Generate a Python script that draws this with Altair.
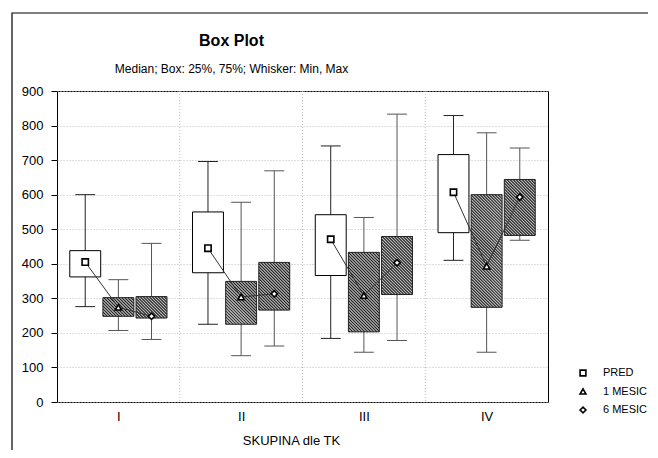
import json
import altair as alt
import pandas as pd

# ---------------- data ----------------
groups = ["I", "II", "III", "IV"]
series = ["PRED", "1 MESIC", "6 MESIC"]

pred_min = [276, 225, 184, 410]
pred_q1 = [362, 374, 366, 490]
pred_med = [405, 445, 471, 607]
pred_q3 = [438, 550, 542, 716]
pred_max = [600, 696, 741, 829]

m1_min = [207, 134, 144, 144]
m1_q1 = [248, 225, 203, 274]
m1_med = [274, 304, 308, 393]
m1_q3 = [302, 349, 433, 600]
m1_max = [354, 578, 534, 779]

m6_min = [181, 162, 178, 468]
m6_q1 = [243, 266, 311, 482]
m6_med = [248, 313, 403, 593]
m6_q3 = [305, 404, 479, 644]
m6_max = [459, 669, 833, 735]

y_ticks = list(range(0, 1000, 100))

# ---------------- layout ----------------
W, H = 491, 311
PAD = {"left": 49, "top": 83, "right": 100, "bottom": 48}
Y_MAX = 900
X_DOM = [0.5, len(groups) + 0.5]
PX_X = W / (X_DOM[1] - X_DOM[0])
PX_Y = H / Y_MAX
OFFS = [-0.27, 0.0, 0.27]
BOX_HALF = 0.126
CAP_HALF = 0.081
HATCH_STEP = 3.0   # px, horizontal spacing of hatch lines
LEG_SYM_X, LEG_TXT_X, LEG_Y = 526, 546, [282, 319]
FONT = "Liberation Sans, Arial, sans-serif"

stats = {
    "PRED": (pred_min, pred_q1, pred_med, pred_q3, pred_max),
    "1 MESIC": (m1_min, m1_q1, m1_med, m1_q3, m1_max),
    "6 MESIC": (m6_min, m6_q1, m6_med, m6_q3, m6_max),
}
whisker_col = {"PRED": "#222222", "1 MESIC": "#555555", "6 MESIC": "#555555"}

rows = []
for gi, g in enumerate(groups):
    for si, s in enumerate(series):
        mn, q1, md, q3, mx = (a[gi] for a in stats[s])
        xc = gi + 1 + OFFS[si]
        rows.append(dict(group=g, series=s, order=si, xc=xc, wcol=whisker_col[s],
                         bx1=xc - BOX_HALF, bx2=xc + BOX_HALF,
                         cx1=xc - CAP_HALF, cx2=xc + CAP_HALF,
                         mn=mn, q1=q1, md=md, q3=q3, mx=mx))
df = pd.DataFrame(rows)

caps = pd.concat([
    df[["wcol", "cx1", "cx2", "mn"]].rename(columns={"mn": "v"}),
    df[["wcol", "cx1", "cx2", "mx"]].rename(columns={"mx": "v"}),
])

# hatch lines ("\" direction) clipped to each hatched box, derived from box values
hl = []
for _, r in df[df.series != "PRED"].iterrows():
    w = (r.bx2 - r.bx1) * PX_X
    h = (r.q3 - r.q1) * PX_Y
    c = HATCH_STEP / 2
    while c < w + h:
        xa = max(0.0, c - h)
        xb = min(w, c)
        hl.append(dict(hx1=r.bx1 + xa / PX_X, hy1=r.q1 + (c - xa) / PX_Y,
                       hx2=r.bx1 + xb / PX_X, hy2=r.q1 + (c - xb) / PX_Y))
        c += HATCH_STEP
hatch_df = pd.DataFrame(hl)

xscale = alt.Scale(domain=X_DOM, nice=False, zero=False)
yscale = alt.Scale(domain=[0, Y_MAX], nice=False, zero=True)
shape_scale = alt.Scale(domain=series, range=["square", "triangle-up", "diamond"])

label_expr = json.dumps(groups) + "[datum.value - 1]"
x_axis = alt.Axis(values=list(range(1, len(groups) + 1)), labelExpr=label_expr,
                  title="SKUPINA dle TK", grid=False, ticks=False, domain=False,
                  labelFontSize=13, labelPadding=8, titleFontSize=13,
                  titleFontWeight="normal", titlePadding=11, titleX=234,
                  labelFont=FONT, titleFont=FONT, labelColor="black",
                  titleColor="black")
y_axis = alt.Axis(values=y_ticks, title=None, grid=True, gridDash=[1, 2],
                  gridColor="#bdbdbd", tickSize=6, tickColor="black",
                  domain=False, labelPadding=8, labelFontSize=13,
                  labelFont=FONT, labelColor="black")


def X(field):
    return alt.X(field, type="quantitative", scale=xscale, axis=x_axis)


def Y(field):
    return alt.Y(field, type="quantitative", scale=yscale, axis=y_axis)


# outer frame (decoration: left and top edges of the graph window)
frame = alt.Chart(pd.DataFrame({"a": [0]})).mark_rect(
    fillOpacity=0, stroke="black", strokeWidth=1.2
).encode(x=alt.value(-45), x2=alt.value(700), y=alt.value(-78), y2=alt.value(600))

whisk = alt.Chart(df).mark_rule(strokeWidth=1).encode(
    x=X("xc"), y=Y("mn"), y2="mx:Q", color=alt.Color("wcol:N", scale=None),
)

bounds = pd.DataFrame({"xb": [i + 1.5 for i in range(len(groups) - 1)]})
vgrid = alt.Chart(bounds).mark_rule(color="#bdbdbd", strokeDash=[1, 2]).encode(x=X("xb"))

cap = alt.Chart(caps).mark_rule(strokeWidth=1).encode(
    x=X("cx1"), x2="cx2:Q", y=Y("v"), color=alt.Color("wcol:N", scale=None),
)

pred_boxes = alt.Chart(df[df.series == "PRED"]).mark_rect(
    fill="white", stroke="black", strokeWidth=1
).encode(x=X("bx1"), x2="bx2:Q", y=Y("q1"), y2="q3:Q")

hbox_df = df[df.series != "PRED"]
hatch_bg = alt.Chart(hbox_df).mark_rect(fill="#c2c2c2").encode(
    x=X("bx1"), x2="bx2:Q", y=Y("q1"), y2="q3:Q")
hatch_lines = alt.Chart(hatch_df).mark_rule(color="#1a1a1a", strokeWidth=1.05).encode(
    x=X("hx1"), x2="hx2:Q", y=Y("hy1"), y2="hy2:Q")
hatch_outline = alt.Chart(hbox_df).mark_rect(
    fillOpacity=0, stroke="#222222", strokeWidth=1).encode(
    x=X("bx1"), x2="bx2:Q", y=Y("q1"), y2="q3:Q")

med_line = alt.Chart(df).mark_line(color="#333333", strokeWidth=1).encode(
    x=X("xc"), y=Y("md"), detail="group:N", order="order:Q",
)

markers = alt.Chart(df).mark_point(
    filled=True, fill="white", stroke="black", strokeWidth=1.6, size=40, opacity=1
).encode(
    x=X("xc"), y=Y("md"),
    shape=alt.Shape("series:N", scale=shape_scale, legend=None),
)

main = alt.layer(whisk, frame, vgrid, cap, pred_boxes, hatch_bg, hatch_lines, hatch_outline,
                 med_line, markers)

# legend (series list on its own point scale)
leg_df = pd.DataFrame({"series": series})
leg_y = alt.Y("series:N", scale=alt.Scale(domain=series, range=LEG_Y, padding=0), axis=None)
leg_sym = alt.Chart(leg_df).mark_point(
    filled=True, fill="white", stroke="black", strokeWidth=1.6, size=34, opacity=1
).encode(x=alt.value(LEG_SYM_X), y=leg_y,
         shape=alt.Shape("series:N", scale=shape_scale, legend=None))
leg_txt = alt.Chart(leg_df).mark_text(
    align="left", baseline="middle", font=FONT, fontSize=11, color="black"
).encode(x=alt.value(LEG_TXT_X), y=leg_y, text="series:N")
legend = alt.layer(leg_sym, leg_txt)

chart = alt.layer(main, legend).resolve_scale(y="independent").properties(
    width=W, height=H,
    autosize=alt.AutoSizeParams(type="none"),
    padding=PAD,
    title=alt.TitleParams(text="Box Plot", subtitle="Median; Box: 25%, 75%; Whisker: Min, Max",
                          anchor="middle", frame="group", dx=-71, fontSize=16, font=FONT,
                          fontWeight="bold", subtitleFont=FONT, subtitleFontSize=12,
                          subtitleColor="black", color="black", offset=-63, subtitlePadding=15),
).configure_view(stroke="black", strokeWidth=1)

chart.save("out.html", embed_options={"renderer": "svg", "actions": False})
